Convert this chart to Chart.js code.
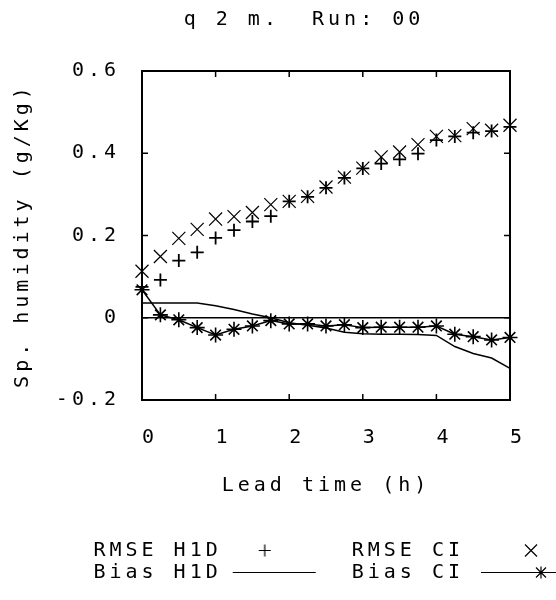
<!DOCTYPE html>
<html><head><meta charset="utf-8">
<script src="https://cdn.jsdelivr.net/npm/chart.js@4/dist/chart.umd.min.js"></script>
<style>html,body{margin:0;padding:0;background:#fff}canvas{display:block}</style>
</head><body>
<canvas id="c" width="556" height="600"></canvas>
<script>
// ---- data ----
const leadTime = [0, 0.25, 0.5, 0.75, 1, 1.25, 1.5, 1.75, 2, 2.25, 2.5, 2.75, 3, 3.25, 3.5, 3.75, 4, 4.25, 4.5, 4.75, 5];
const rmseH1D = [0.075, 0.092, 0.139, 0.159, 0.194, 0.213, 0.234, 0.247, 0.283, 0.294, 0.316, 0.340, 0.363, 0.375, 0.385, 0.399, 0.432, 0.441, 0.450, 0.454, 0.464];
const rmseCI  = [0.113, 0.149, 0.193, 0.215, 0.240, 0.246, 0.256, 0.275, 0.283, 0.295, 0.318, 0.342, 0.364, 0.391, 0.403, 0.421, 0.441, 0.443, 0.460, 0.456, 0.468];
const biasH1D = [0.036, 0.036, 0.036, 0.036, 0.029, 0.020, 0.009, 0.000, -0.012, -0.018, -0.025, -0.035, -0.039, -0.040, -0.040, -0.041, -0.043, -0.070, -0.087, -0.098, -0.123];
const biasCI  = [0.068, 0.007, -0.005, -0.024, -0.042, -0.028, -0.020, -0.007, -0.015, -0.015, -0.020, -0.017, -0.024, -0.023, -0.023, -0.023, -0.020, -0.040, -0.046, -0.054, -0.048];
const xTicks = [0, 1, 2, 3, 4, 5];
const xTickLabels = ['0', '1', '2', '3', '4', '5'];
const yTicks = [-0.2, 0, 0.2, 0.4, 0.6];
const yTickLabels = ['-0.2', '0', '0.2', '0.4', '0.6'];
const titleText = 'q 2 m.  Run: 00';
const xTitle = 'Lead time (h)';
const yTitle = 'Sp. humidity (g/Kg)';

// ---- style ----
const FONT = "'DejaVu Sans Mono', monospace";
const FS = 20;
const LS = '4px';
const font = {family: FONT, size: FS, weight: 'normal'};

function pts(vals) { return leadTime.map((t, i) => ({x: t, y: vals[i]})); }

// legend swatches (gnuplot style: sample to the right of the text)
function swatch(kind) {
  const c = document.createElement('canvas');
  c.width = 118; c.height = 21;
  const g = c.getContext('2d');
  g.strokeStyle = '#000'; g.lineWidth = 1.2;
  const cy = 10.5;
  g.beginPath();
  if (kind === 'plus') {
    g.moveTo(27, cy); g.lineTo(39, cy); g.moveTo(33, cy - 6); g.lineTo(33, cy + 6);
  } else if (kind === 'line') {
    g.moveTo(1, cy); g.lineTo(84, cy);
  } else if (kind === 'x') {
    g.moveTo(51, cy - 6); g.lineTo(63, cy + 6); g.moveTo(63, cy - 6); g.lineTo(51, cy + 6);
  } else if (kind === 'linestar') {
    g.moveTo(7, cy); g.lineTo(118, cy);
    g.moveTo(67, cy - 6); g.lineTo(67, cy + 6);
    g.moveTo(62, cy - 5); g.lineTo(72, cy + 5); g.moveTo(72, cy - 5); g.lineTo(62, cy + 5);
  }
  g.stroke();
  return c;
}
const swatches = {
  'RMSE H1D': swatch('plus'),
  'RMSE CI': swatch('x'),
  'Bias H1D': swatch('line'),
  'Bias CI': swatch('linestar')
};

const frameTicks = {
  id: 'frameTicks',
  beforeUpdate(chart) { chart.ctx.letterSpacing = LS; },
  beforeDraw(chart) { chart.ctx.letterSpacing = LS; },
  beforeDatasetsDraw(chart) {
    const {ctx, chartArea: a, scales: {x, y}} = chart;
    ctx.save();
    ctx.strokeStyle = '#000';
    ctx.lineWidth = 2;
    ctx.strokeRect(a.left, a.top, a.right - a.left, a.bottom - a.top);
    ctx.lineWidth = 1.5;
    ctx.beginPath();
    xTicks.forEach(v => {
      const px = x.getPixelForValue(v);
      ctx.moveTo(px, a.bottom); ctx.lineTo(px, a.bottom - 6);
      ctx.moveTo(px, a.top); ctx.lineTo(px, a.top + 6);
    });
    yTicks.forEach(v => {
      const py = y.getPixelForValue(v);
      ctx.moveTo(a.left, py); ctx.lineTo(a.left + 6, py);
      ctx.moveTo(a.right, py); ctx.lineTo(a.right - 6, py);
    });
    ctx.stroke();
    ctx.restore();
  }
};

new Chart(document.getElementById('c'), {
  type: 'line',
  data: {
    datasets: [
      {label: 'RMSE CI', data: pts(rmseCI), showLine: false, pointStyle: 'crossRot',
       pointRadius: 9.2, pointHoverRadius: 9.2, pointBorderWidth: 1.2,
       borderColor: '#000', backgroundColor: '#000', clip: false},
      {label: 'RMSE H1D', data: pts(rmseH1D), showLine: false, pointStyle: 'cross',
       pointRadius: 6.5, pointHoverRadius: 6.5, pointBorderWidth: 1.8,
       borderColor: '#000', backgroundColor: '#000', clip: false},
      {label: 'Bias CI', data: pts(biasCI), showLine: true, borderWidth: 1.5, tension: 0,
       pointStyle: 'star', pointRadius: 7.5, pointHoverRadius: 7.5, pointBorderWidth: 1.6,
       borderColor: '#000', backgroundColor: '#000', clip: false},
      {label: 'Bias H1D', data: pts(biasH1D), showLine: true, borderWidth: 1.5, tension: 0,
       pointRadius: 0, pointHoverRadius: 0,
       borderColor: '#000', backgroundColor: '#000', clip: false}
    ]
  },
  options: {
    responsive: false,
    animation: false,
    devicePixelRatio: 1,
    layout: {padding: {left: 14, right: -38, top: 0, bottom: 7.5}},
    plugins: {
      tooltip: {enabled: false},
      title: {display: true, text: titleText, color: '#000', font: font,
              padding: {top: 7.5, bottom: 39.5}},
      legend: {
        position: 'bottom', align: 'start', rtl: true,
        labels: {
          usePointStyle: true, pointStyleWidth: 118, padding: 2,
          color: '#000', font: font,
          generateLabels(chart) {
            const items = Chart.defaults.plugins.legend.labels.generateLabels(chart);
            items.forEach(it => { it.pointStyle = swatches[it.text]; });
            return items;
          }
        }
      }
    },
    scales: {
      x: {
        type: 'linear', min: 0, max: 5,
        afterBuildTicks: s => { s.ticks = xTicks.map(v => ({value: v})); },
        grid: {display: false, drawTicks: false},
        border: {display: false},
        ticks: {color: '#000', font: font, padding: 25.5, labelOffset: 8, maxRotation: 0, autoSkip: false,
                callback: v => xTickLabels[xTicks.indexOf(v)]},
        title: {display: true, text: xTitle, color: '#000', font: font, padding: {top: 0, bottom: 40.5}},
        afterFit: s => { s.height = 138.5; }
      },
      y: {
        type: 'linear', min: -0.2, max: 0.6,
        afterBuildTicks: s => { s.ticks = yTicks.map(v => ({value: v})); },
        grid: {drawTicks: false, lineWidth: 1.5,
               color: c => (c.tick && c.tick.value === 0) ? '#000' : 'rgba(0,0,0,0)'},
        border: {display: false},
        ticks: {color: '#000', font: font, padding: 22, autoSkip: false,
                callback: v => yTickLabels[yTicks.indexOf(v)]},
        title: {display: true, text: yTitle, color: '#000', font: font, padding: {top: -3.5, bottom: 0}},
        afterFit: s => { s.width = 128; }
      },
      y2: {
        type: 'linear', position: 'right', min: -0.2, max: 0.6, display: true,
        grid: {display: false, drawTicks: false},
        border: {display: false},
        ticks: {display: false},
        afterFit: s => { s.width = 84; }
      }
    }
  },
  plugins: [frameTicks]
});
</script>
</body></html>
